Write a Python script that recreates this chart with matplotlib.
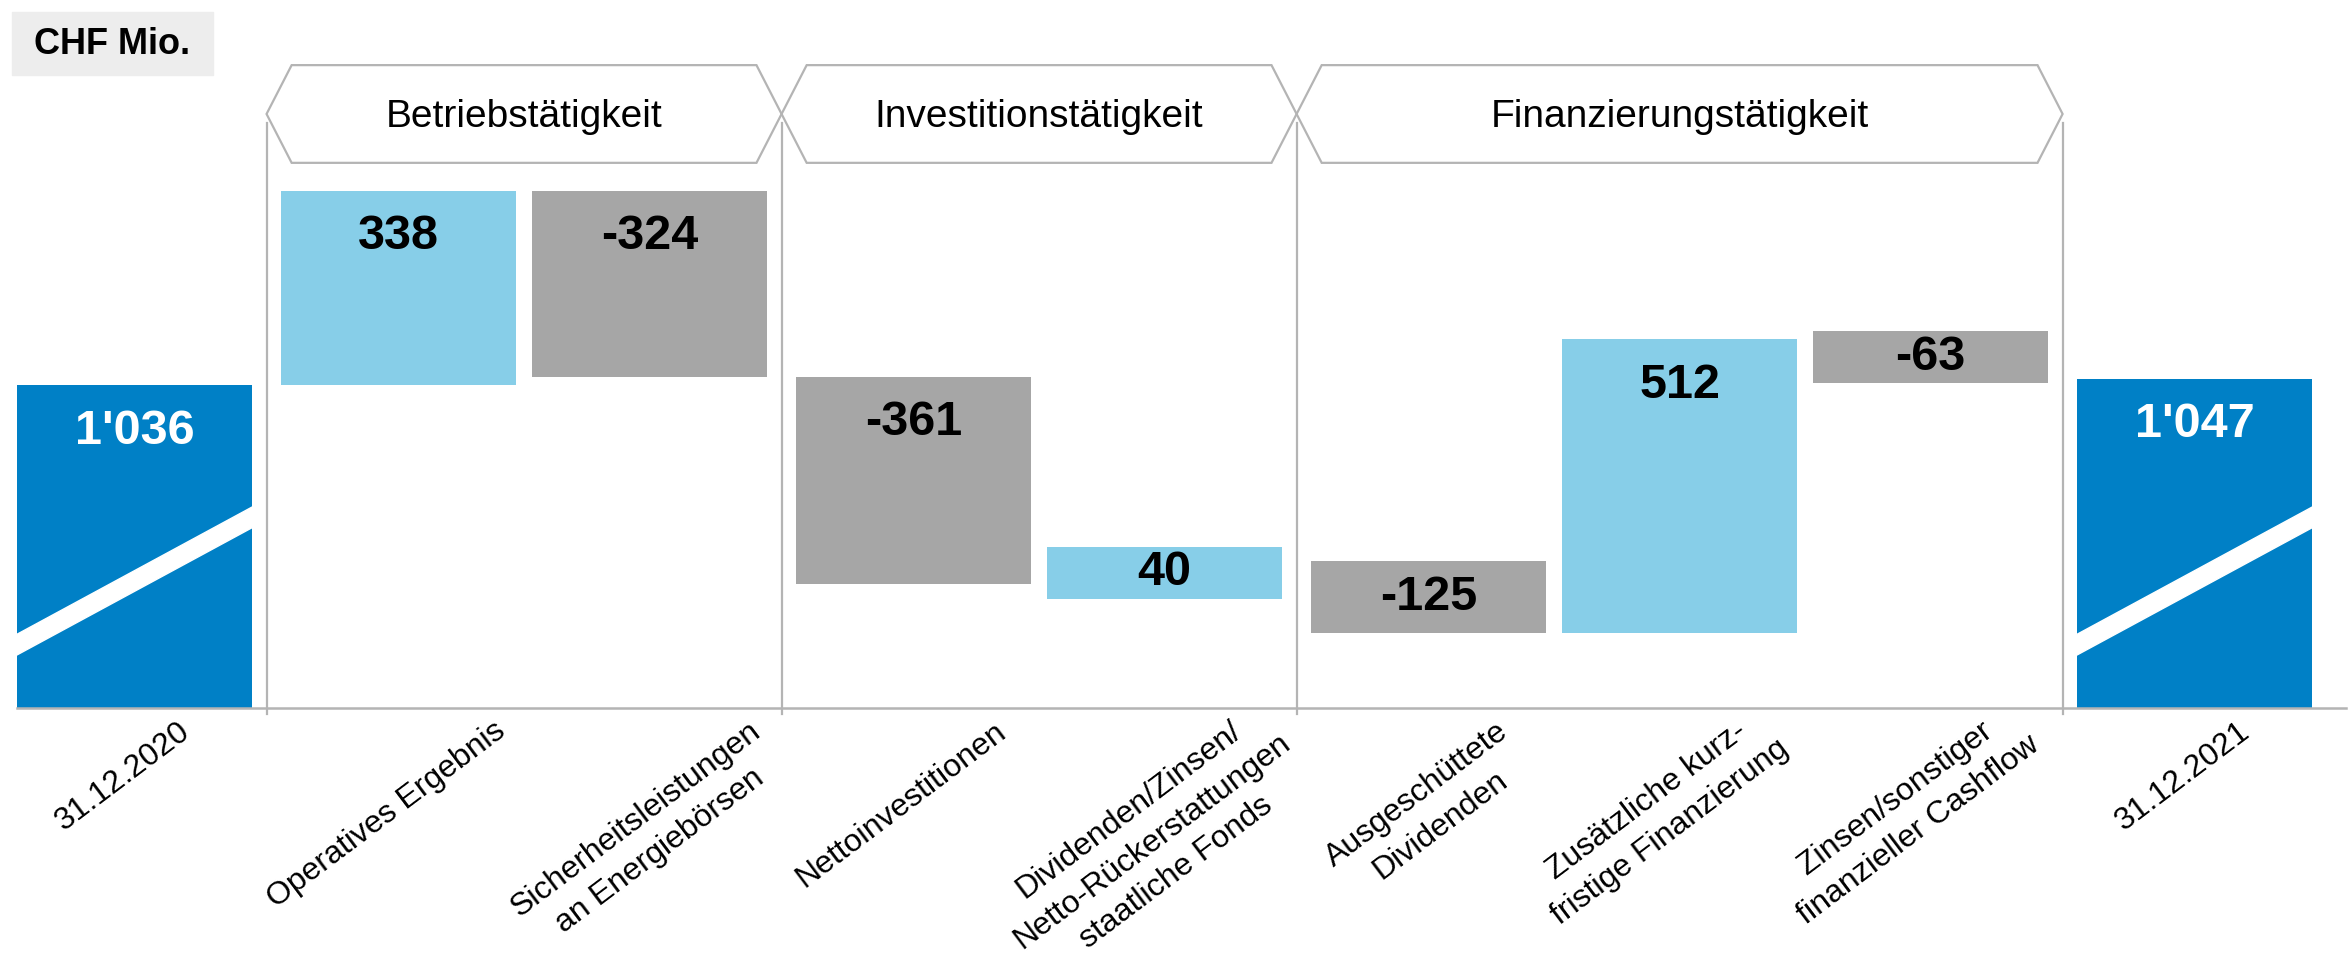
import math
import matplotlib.pyplot as plt
from matplotlib.patches import Polygon, Rectangle
from matplotlib.transforms import IdentityTransform

plt.rcParams['font.family'] = ['Liberation Sans', 'DejaVu Sans']

categories = [
    "31.12.2020",
    "Operatives Ergebnis",
    "Sicherheitsleistungen\nan Energiebörsen",
    "Nettoinvestitionen",
    "Dividenden/Zinsen/\nNetto-Rückerstattungen\nstaatliche Fonds",
    "Ausgeschüttete\nDividenden",
    "Zusätzliche kurz-\nfristige Finanzierung",
    "Zinsen/sonstiger\nfinanzieller Cashflow",
    "31.12.2021",
]
start_value = 1036
end_value = 1047
changes = [338, -324, -361, 40, -125, 512, -63]
bar_group = [0, 1, 1, 2, 2, 3, 3, 3, 4]
group_names = {1: "Betriebstätigkeit", 2: "Investitionstätigkeit", 3: "Finanzierungstätigkeit"}

dark_blue = "#0080C6"
light_blue = "#87CEE8"
grey = "#A6A6A6"
line_grey = "#B4B4B4"


def fmt(v):
    return f"{v:,}".replace(",", "'")


W, H = 2352, 956
fig = plt.figure(figsize=(W / 100, H / 100), dpi=100)
ax = fig.add_axes([0, 248 / H, 1, 708 / H])
ax.axis("off")

y_floor = 474          # broken axis: value at the baseline
ax.set_xlim(-0.536, 8.835)
ax.set_ylim(y_floor, 1706)
xt = ax.get_xaxis_transform()

gap = 0.052
bw = 0.936
xs = [i + gap * g for i, g in enumerate(bar_group)]

label_drop = 80
min_h = 90             # small bars are drawn a bit taller so the label fits


def value_label(x, top, h, txt, color="black"):
    y = top - min(label_drop, h / 2)
    ax.text(x, y, txt, ha="center", va="center", fontsize=35,
            fontweight="bold", color=color, zorder=5)


def break_stripe(x):
    xl, xr = x - bw / 2 - 0.01, x + bw / 2 + 0.01
    yl, yr, t = y_floor + 108, y_floor + 334, 18
    ax.add_patch(Polygon([(xl, yl - t), (xr, yr - t), (xr, yr + t), (xl, yl + t)],
                         closed=True, color="white", zorder=3))


# start bar
ax.bar(xs[0], start_value - y_floor, bottom=y_floor, width=bw, color=dark_blue, zorder=2)
break_stripe(xs[0])
value_label(xs[0], start_value, start_value - y_floor, fmt(start_value), "white")

# changes
running = start_value
for j, d in enumerate(changes):
    lo, hi = min(running, running + d), max(running, running + d)
    if hi - lo < min_h:
        mid = (hi + lo) / 2
        lo, hi = mid - min_h / 2, mid + min_h / 2
    ax.bar(xs[j + 1], hi - lo, bottom=lo, width=bw,
           color=light_blue if d > 0 else grey, zorder=2)
    value_label(xs[j + 1], hi, hi - lo, fmt(d))
    running += d

# end bar
ax.bar(xs[-1], end_value - y_floor, bottom=y_floor, width=bw, color=dark_blue, zorder=2)
break_stripe(xs[-1])
value_label(xs[-1], end_value, end_value - y_floor, fmt(end_value), "white")

# baseline
ax.plot([xs[0] - bw / 2, 8.81], [y_floor, y_floor], color=line_grey, lw=1.8,
        clip_on=False, zorder=4)

# group separators and hexagon headers
seps = [(xs[i] + xs[i + 1]) / 2 for i in range(len(xs) - 1) if bar_group[i] != bar_group[i + 1]]
for s in seps:
    ax.plot([s, s], [-0.008, 0.826], transform=xt, color=line_grey, lw=1.6, clip_on=False)

ins = 0.1
yt, ym, yb = 0.908, 0.839, 0.770
for g, name in group_names.items():
    xl, xr = seps[g - 1], seps[g]
    hexagon = Polygon([(xl, ym), (xl + ins, yt), (xr - ins, yt), (xr, ym),
                       (xr - ins, yb), (xl + ins, yb)], closed=True, fill=False,
                      edgecolor=line_grey, lw=1.6, transform=xt, clip_on=False)
    ax.add_patch(hexagon)
    ax.text((xl + xr) / 2, ym - 0.004, name, transform=xt, ha="center", va="center",
            fontsize=28)

# unit box
fig.add_artist(Rectangle((12 / W, 1 - 75 / H), 201 / W, 63 / H,
                         transform=fig.transFigure, color="#EDEDED"))
fig.text(112 / W, 1 - 44 / H, "CHF Mio.", ha="center", va="center",
         fontsize=26, fontweight="bold")

# category labels: each line is its own rotated text, block placed so its
# top sits just under the baseline and it is centred under the bar
angle = 37
cat_size = 23
lh = cat_size * 100 / 72 * 1.22
a = math.radians(angle)
perp = (math.sin(a), -math.cos(a))
label_top = H - 716
fig.canvas.draw()
renderer = fig.canvas.get_renderer()
for x, lab in zip(xs, categories):
    lines = lab.split("\n")
    n = len(lines)
    texts = []
    for i, line in enumerate(lines):
        k = i - (n - 1) / 2
        t = fig.text(k * lh * perp[0], k * lh * perp[1], line, transform=IdentityTransform(),
                     rotation=angle, rotation_mode="anchor", ha="center", va="center",
                     fontsize=cat_size)
        texts.append(t)
    boxes = [t.get_window_extent(renderer) for t in texts]
    x0 = min(b.x0 for b in boxes)
    x1 = max(b.x1 for b in boxes)
    y1 = max(b.y1 for b in boxes)
    cx = ax.transData.transform((x, y_floor))[0] - 12
    dx = cx - (x0 + x1) / 2
    dy = label_top - y1
    for t in texts:
        px, py = t.get_position()
        t.set_position((px + dx, py + dy))

fig.savefig("out.png", dpi=100)
